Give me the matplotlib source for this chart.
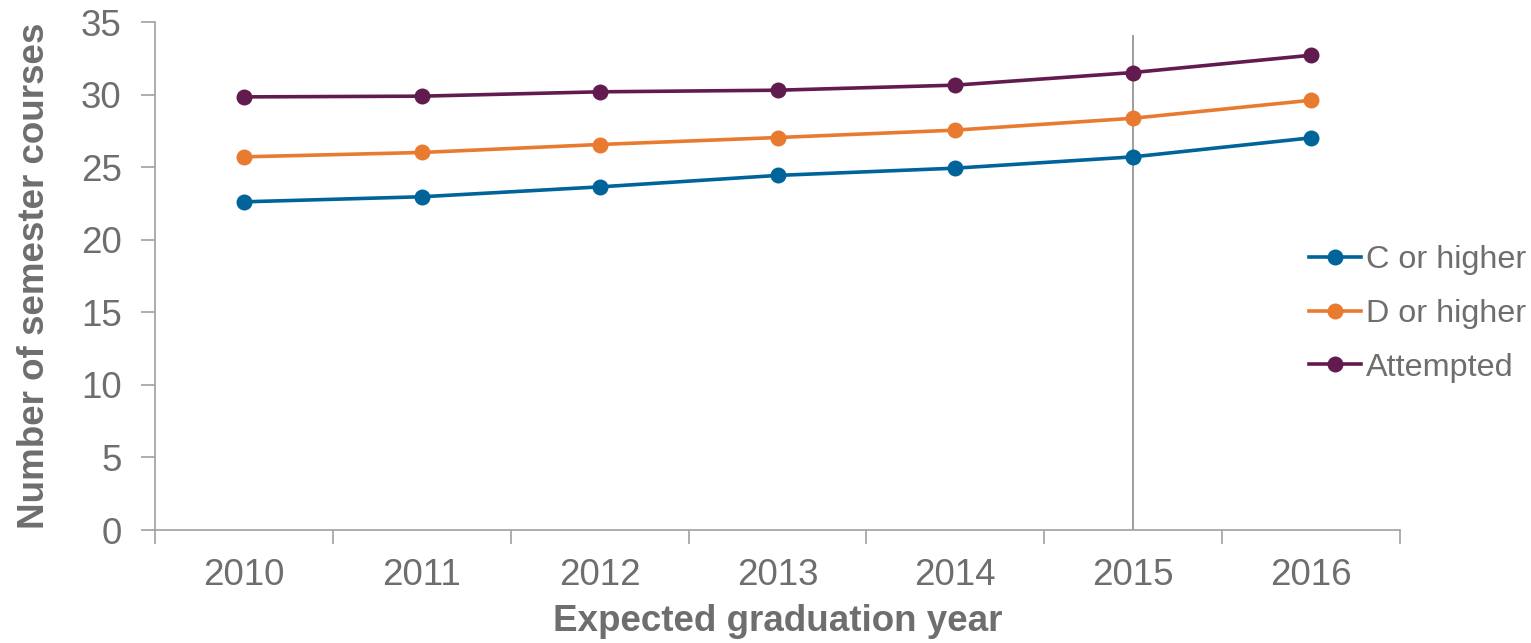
import matplotlib
matplotlib.use("Agg")
import matplotlib.pyplot as plt
from matplotlib.ticker import FixedLocator

years = ["2010", "2011", "2012", "2013", "2014", "2015", "2016"]
c_or_higher = [22.61, 22.96, 23.64, 24.43, 24.93, 25.71, 27.02]
d_or_higher = [25.71, 26.01, 26.56, 27.04, 27.55, 28.37, 29.61]
attempted = [29.84, 29.89, 30.19, 30.30, 30.65, 31.52, 32.71]
series_names = ["C or higher", "D or higher", "Attempted"]
marker_year = "2015"
marker_top = 34.1

colors = ["#00649A", "#E97B30", "#611B4F"]
text_gray = "#6E6E6E"
axis_gray = "#A0A0A0"

plt.rcParams['font.family'] = ['Liberation Sans', 'DejaVu Sans']

fig = plt.figure(figsize=(15.31, 6.43), dpi=100)
ax = fig.add_axes([155/1531, 1 - 530/643, (1400-155)/1531, (530-22)/643])

x = list(range(len(years)))
for vals, name, col in zip([c_or_higher, d_or_higher, attempted], series_names, colors):
    ax.plot(x, vals, color=col, lw=2.6, marker='o', markersize=11.5,
            markeredgewidth=0, label=name, zorder=3)

xi = years.index(marker_year)
ax.vlines(xi, 0, marker_top, color="#8C8C8C", lw=1.2, zorder=2)

ax.set_xlim(-0.5, len(years) - 0.5)
ax.set_ylim(0, 35)
ax.set_yticks(range(0, 36, 5))
ax.set_xticks(x)
ax.set_xticklabels(years)
ax.xaxis.set_minor_locator(FixedLocator([i - 0.5 for i in range(len(years) + 1)]))
ax.tick_params(axis='x', which='major', length=0, labelsize=26.5, labelcolor=text_gray, pad=20)
ax.tick_params(axis='x', which='minor', length=10, width=1.2, color=axis_gray, direction='out')
ax.tick_params(axis='y', length=10, width=1.2, color=axis_gray, labelsize=26.5,
               labelcolor=text_gray, pad=14, direction='out')

for s in ['top', 'right']:
    ax.spines[s].set_visible(False)
for s in ['left', 'bottom']:
    ax.spines[s].set_color(axis_gray)
    ax.spines[s].set_linewidth(1.2)

ax.set_ylabel("Number of semester courses", fontsize=26.5, fontweight='bold', color=text_gray, labelpad=21)
ax.set_xlabel("Expected graduation year", fontsize=26.5, fontweight='bold', color=text_gray, labelpad=8)

leg = fig.legend(loc='center left', bbox_to_anchor=(1309/1531, 1 - 314/643), frameon=False,
                 fontsize=23.3, labelcolor=text_gray, handlelength=1.6, handletextpad=0.15,
                 labelspacing=0.73, borderaxespad=0, borderpad=0)

fig.savefig("out.png", dpi=100)
